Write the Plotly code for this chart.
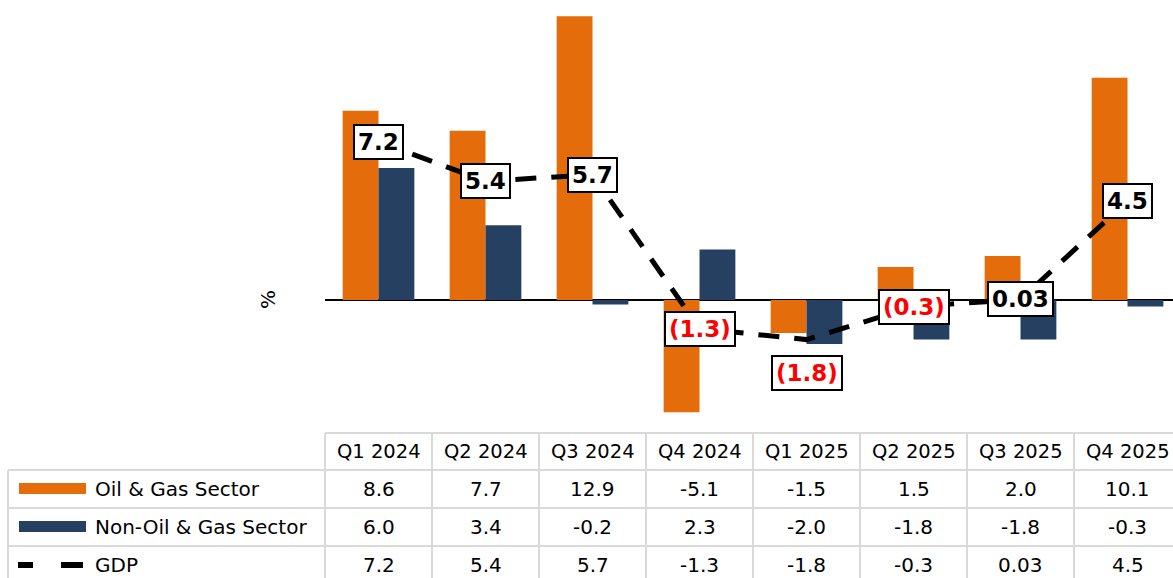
import plotly.graph_objects as go

# ---------------- data ----------------
categories = ["Q1 2024", "Q2 2024", "Q3 2024", "Q4 2024",
              "Q1 2025", "Q2 2025", "Q3 2025", "Q4 2025"]
oil = [8.6, 7.7, 12.9, -5.1, -1.5, 1.5, 2.0, 10.1]
non_oil = [6.0, 3.4, -0.2, 2.3, -2.0, -1.8, -1.8, -0.3]
gdp = [7.2, 5.4, 5.7, -1.3, -1.8, -0.3, 0.03, 4.5]
series_names = ["Oil & Gas Sector", "Non-Oil & Gas Sector", "GDP"]
y_title = "%"

# ---------------- style ----------------
ORANGE = "#E46C0A"
NAVY = "#254061"
GRID = "#D9D9D9"
FONT = "DejaVu Sans"
W, H = 1173, 578
L = 325
X0, X1 = -0.5, 7.425
Y0, Y1 = -12.64, 13.64
label_yshift = [0, 0, 0, 0, -33, 0, 0, 0]


def px_x(p):
    return (p - L) / (W - L)


def px_y(p):
    return 1 - p / H


def cat_px(v):
    return L + (v - X0) * (W - L) / (X1 - X0)


def fmt_table(v):
    if 0 < abs(v) < 0.1:
        return f"{v:.2f}"
    return f"{v:.1f}"


def fmt_label(v):
    s = f"{abs(v):.2f}" if 0 < abs(v) < 0.1 else f"{abs(v):.1f}"
    return f"({s})" if v < 0 else s


fig = go.Figure()
fig.add_bar(x=categories, y=oil, name=series_names[0], marker_color=ORANGE,
            marker_line_width=0)
fig.add_bar(x=categories, y=non_oil, name=series_names[1], marker_color=NAVY,
            marker_line_width=0)
fig.add_scatter(x=categories, y=gdp, name=series_names[2], mode="lines",
                line=dict(color="black", width=5, dash="21px,15px"))

annotations = []
for i, (c, v) in enumerate(zip(categories, gdp)):
    annotations.append(dict(
        x=c, y=v, xref="x", yref="y", text=f"<b>{fmt_label(v)}</b>",
        showarrow=False, yshift=label_yshift[i], xanchor="center", yanchor="middle",
        bgcolor="white", bordercolor="black", borderwidth=2, borderpad=3,
        font=dict(family=FONT, size=23, color="#FF0000" if v < 0 else "black"),
    ))

annotations.append(dict(x=px_x(268), y=px_y(300), xref="paper", yref="paper",
                        text=y_title, textangle=-90, showarrow=False,
                        xanchor="center", yanchor="middle",
                        font=dict(family=FONT, size=20, color="black")))

# ---------------- data table ----------------
shapes = []
row_top = [433, 470, 508, 546, 584]
right = cat_px(len(categories) - 0.5)
shapes.append(dict(type="line", xref="paper", yref="paper",
                   x0=px_x(L), x1=px_x(right), y0=px_y(row_top[0]), y1=px_y(row_top[0]),
                   line=dict(color=GRID, width=2)))
for yy in row_top[1:]:
    shapes.append(dict(type="line", xref="paper", yref="paper",
                       x0=px_x(8), x1=px_x(right), y0=px_y(yy), y1=px_y(yy),
                       line=dict(color=GRID, width=2)))
shapes.append(dict(type="line", xref="paper", yref="paper",
                   x0=px_x(8), x1=px_x(8), y0=px_y(row_top[1]), y1=px_y(row_top[-1]),
                   line=dict(color=GRID, width=2)))
for i in range(len(categories) + 1):
    xx = cat_px(i - 0.5)
    shapes.append(dict(type="line", xref="paper", yref="paper",
                       x0=px_x(xx), x1=px_x(xx), y0=px_y(row_top[0]), y1=px_y(row_top[-1]),
                       line=dict(color=GRID, width=2)))

row_mid = [(row_top[k] + row_top[k + 1]) / 2 for k in range(4)]
for c in categories:
    annotations.append(dict(x=c, y=px_y(row_mid[0]), xref="x", yref="paper",
                            text=c, showarrow=False, xanchor="center", yanchor="middle",
                            font=dict(family=FONT, size=19.5, color="black")))
for r, vals in enumerate([oil, non_oil, gdp]):
    ym = row_mid[r + 1]
    for c, v in zip(categories, vals):
        annotations.append(dict(x=c, y=px_y(ym), xref="x", yref="paper",
                                text=fmt_table(v), showarrow=False,
                                xanchor="center", yanchor="middle",
                                font=dict(family=FONT, size=20, color="black")))
    annotations.append(dict(x=px_x(93), y=px_y(ym), xref="paper", yref="paper",
                            text=series_names[r], showarrow=False,
                            xanchor="left", yanchor="middle",
                            font=dict(family=FONT, size=20, color="black")))

for r, col in enumerate([ORANGE, NAVY]):
    ym = row_mid[r + 1]
    shapes.append(dict(type="rect", xref="paper", yref="paper",
                       x0=px_x(19), x1=px_x(86), y0=px_y(ym - 6), y1=px_y(ym + 5),
                       fillcolor=col, line=dict(width=0)))
ym = row_mid[3]
for a, b in [(18, 33), (61, 83)]:
    shapes.append(dict(type="line", xref="paper", yref="paper",
                       x0=px_x(a), x1=px_x(b), y0=px_y(ym), y1=px_y(ym),
                       line=dict(color="black", width=6)))

fig.update_layout(
    width=W, height=H,
    margin=dict(l=L, r=0, t=0, b=0),
    plot_bgcolor="white", paper_bgcolor="white",
    barmode="group", bargap=0.33, bargroupgap=0,
    showlegend=False,
    xaxis=dict(range=[X0, X1], showticklabels=False, showgrid=False,
               zeroline=False, showline=False, ticks=""),
    yaxis=dict(range=[Y0, Y1], showticklabels=False, showgrid=False,
               zeroline=True, zerolinecolor="black", zerolinewidth=2,
               showline=False, ticks=""),
    annotations=annotations,
    shapes=shapes,
)

fig.write_html("out.html", config={"displayModeBar": False},
               post_script="document.body.style.margin='0';")
